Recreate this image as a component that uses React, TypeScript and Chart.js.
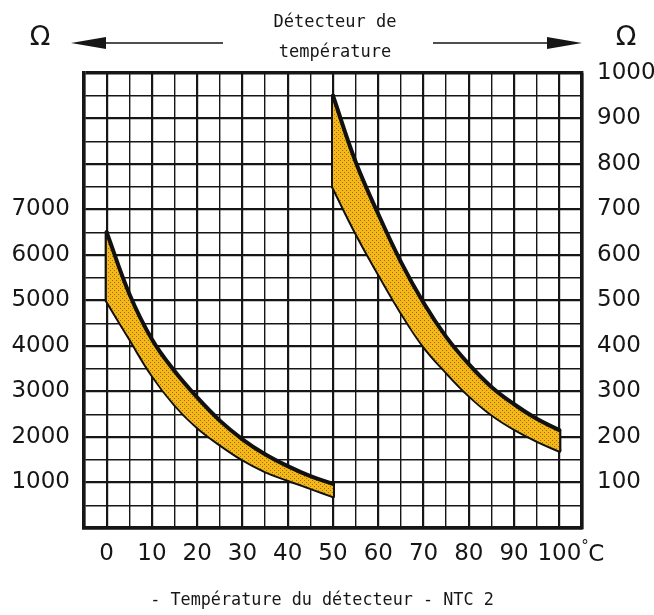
import React, { useEffect, useRef } from "react";
import { Chart, registerables } from "chart.js";

Chart.register(...registerables);

// ---- data ----
const leftTemps = [0, 5, 10, 15, 20, 25, 30, 35, 40, 45, 50];
const leftUpper = [6500, 5150, 4150, 3450, 2870, 2360, 1950, 1620, 1360, 1140, 970];
const leftLower = [5000, 4180, 3370, 2720, 2220, 1840, 1510, 1250, 1060, 880, 700];

const rightTemps = [50, 55, 60, 65, 70, 75, 80, 85, 90, 95, 100];
const rightUpper = [950, 805, 690, 585, 495, 420, 360, 310, 272, 240, 215];
const rightLower = [750, 650, 560, 475, 400, 343, 292, 250, 218, 192, 170];

const xTickLabels = [0, 10, 20, 30, 40, 50, 60, 70, 80, 90, 100];
const leftTickLabels = [1000, 2000, 3000, 4000, 5000, 6000, 7000];
const rightTickLabels = [100, 200, 300, 400, 500, 600, 700, 800, 900, 1000];

const titleLines = ["Détecteur de", "température"];
const caption = "- Température du détecteur - NTC 2";
const unitLabel = "Ω";

const X_MIN = -5, X_MAX = 105;
const Y_MAX = 10000, Y1_MAX = 1000;

const TICK_FONT = { family: "DejaVu Sans", size: 23 };
const INK = "#161616";

function makePattern(): CanvasPattern | string {
  const c = document.createElement("canvas");
  c.width = 4; c.height = 4;
  const g = c.getContext("2d");
  if (!g) return "#f0b41c";
  g.fillStyle = "#f4b81a";
  g.fillRect(0, 0, 4, 4);
  g.fillStyle = "#a06a0c";
  g.fillRect(0, 0, 1, 1);
  g.fillRect(2, 2, 1, 1);
  const p = g.createPattern(c, "repeat");
  return p || "#f0b41c";
}

const pts = (xs: number[], ys: number[]) => xs.map((x, i) => ({ x, y: ys[i] }));
const caps = (xs: number[], up: number[], lo: number[]) => {
  const n = xs.length - 1;
  return [
    { x: xs[0], y: up[0] }, { x: xs[0], y: lo[0] },
    { x: xs[0], y: null as any },
    { x: xs[n], y: up[n] }, { x: xs[n], y: lo[n] },
  ];
};

const decorPlugin = {
  id: "decor",
  afterDraw(chart: any) {
    const ctx: CanvasRenderingContext2D = chart.ctx;
    ctx.save();
    ctx.fillStyle = INK;
    ctx.strokeStyle = INK;
    // Omega symbols
    ctx.font = "27px 'DejaVu Sans'";
    ctx.textAlign = "center";
    ctx.textBaseline = "middle";
    ctx.fillText(unitLabel, 40, 38);
    ctx.fillText(unitLabel, 626, 38);
    // arrows
    const ay = 43;
    ctx.lineWidth = 1.6;
    ctx.beginPath();
    ctx.moveTo(223, ay); ctx.lineTo(100, ay);
    ctx.moveTo(433, ay); ctx.lineTo(552, ay);
    ctx.stroke();
    ctx.beginPath();
    ctx.moveTo(71, ay); ctx.lineTo(106, ay - 6); ctx.lineTo(106, ay + 6); ctx.closePath();
    ctx.fill();
    ctx.beginPath();
    ctx.moveTo(582, ay); ctx.lineTo(547, ay - 6); ctx.lineTo(547, ay + 6); ctx.closePath();
    ctx.fill();
    // title
    ctx.font = "17px 'DejaVu Sans Mono'";
    ctx.fillText(titleLines[0], 335, 23);
    ctx.fillText(titleLines[1], 335, 53);
    // caption
    ctx.font = "16.8px 'DejaVu Sans Mono'";
    ctx.fillText(caption, 322, 601);
    // degree C after last x tick
    const xs = chart.scales.x;
    const xr = xs.getPixelForValue(xTickLabels[xTickLabels.length - 1]);
    ctx.textAlign = "left";
    ctx.font = "15px 'DejaVu Sans'";
    ctx.fillText("°", xr + 22, 547);
    ctx.font = "23px 'DejaVu Sans'";
    ctx.fillText("C", xr + 29, 555);
    ctx.restore();
  },
};

export default function App() {
  const ref = useRef<HTMLCanvasElement | null>(null);
  useEffect(() => {
    if (!ref.current) return;
    const pattern = makePattern();
    const lineBase = {
      borderColor: "#111",
      borderWidth: 4,
      pointRadius: 0,
      tension: 0.4,
      borderJoinStyle: "round" as const,
      borderCapStyle: "round" as const,
    };
    const chart = new Chart(ref.current, {
      type: "line",
      data: {
        datasets: [
          { ...lineBase, label: "L-up", data: pts(leftTemps, leftUpper), yAxisID: "y", fill: "+1", backgroundColor: pattern },
          { ...lineBase, label: "L-lo", data: pts(leftTemps, leftLower), yAxisID: "y", fill: false },
          { ...lineBase, label: "L-cap", data: caps(leftTemps, leftUpper, leftLower), yAxisID: "y", fill: false, spanGaps: false, tension: 0 },
          { ...lineBase, label: "R-up", data: pts(rightTemps, rightUpper), yAxisID: "y1", fill: "+1", backgroundColor: pattern },
          { ...lineBase, label: "R-lo", data: pts(rightTemps, rightLower), yAxisID: "y1", fill: false },
          { ...lineBase, label: "R-cap", data: caps(rightTemps, rightUpper, rightLower), yAxisID: "y1", fill: false, spanGaps: false, tension: 0 },
        ] as any,
      },
      options: {
        responsive: false,
        animation: false,
        layout: { padding: { top: 73, left: 0, right: 0, bottom: 0 } },
        plugins: { legend: { display: false }, tooltip: { enabled: false }, title: { display: false } },
        scales: {
          x: {
            type: "linear",
            min: X_MIN,
            max: X_MAX,
            afterFit: (s: any) => { s.height = 87; },
            ticks: {
              stepSize: 5,
              autoSkip: false,
              maxRotation: 0,
              padding: 12,
              color: INK,
              font: TICK_FONT,
              callback: (v: any) => (xTickLabels.includes(Number(v)) ? String(v) : ""),
            },
            grid: {
              drawTicks: false,
              color: INK,
              lineWidth: (c: any) => {
                const v = c.tick ? c.tick.value : 0;
                if (v === X_MAX || v === X_MIN) return 3.4;
                return v % 10 === 0 ? 2.2 : 1.4;
              },
            },
            border: { display: true, color: INK, width: 3.4 },
          },
          y: {
            type: "linear",
            position: "left",
            min: 0,
            max: Y_MAX,
            afterFit: (s: any) => { s.width = 84; },
            ticks: {
              stepSize: 500,
              autoSkip: false,
              padding: 14,
              color: INK,
              font: TICK_FONT,
              callback: (v: any) => (leftTickLabels.includes(Number(v)) ? String(v) : ""),
            },
            grid: {
              drawTicks: false,
              color: INK,
              lineWidth: (c: any) => {
                const v = c.tick ? c.tick.value : 0;
                if (v === Y_MAX || v === 0) return 3.4;
                return v % 1000 === 0 ? 2.2 : 1.4;
              },
            },
            border: { display: true, color: INK, width: 3.4 },
          },
          y1: {
            type: "linear",
            position: "right",
            min: 0,
            max: Y1_MAX,
            afterFit: (s: any) => { s.width = 72; },
            ticks: {
              stepSize: 100,
              autoSkip: false,
              padding: 15,
              color: INK,
              font: TICK_FONT,
              callback: (v: any) => (rightTickLabels.includes(Number(v)) ? String(v) : ""),
            },
            grid: { drawOnChartArea: false, drawTicks: false },
            border: { display: true, color: INK, width: 3.4 },
          },
        },
      } as any,
      plugins: [decorPlugin],
    });
    return () => chart.destroy();
  }, []);

  return (
    <div style={{ position: "fixed", left: 0, top: 0, width: 654, height: 615, background: "#fff" }}>
      <canvas ref={ref} width={654} height={615} style={{ display: "block", width: 654, height: 615 }} />
    </div>
  );
}
